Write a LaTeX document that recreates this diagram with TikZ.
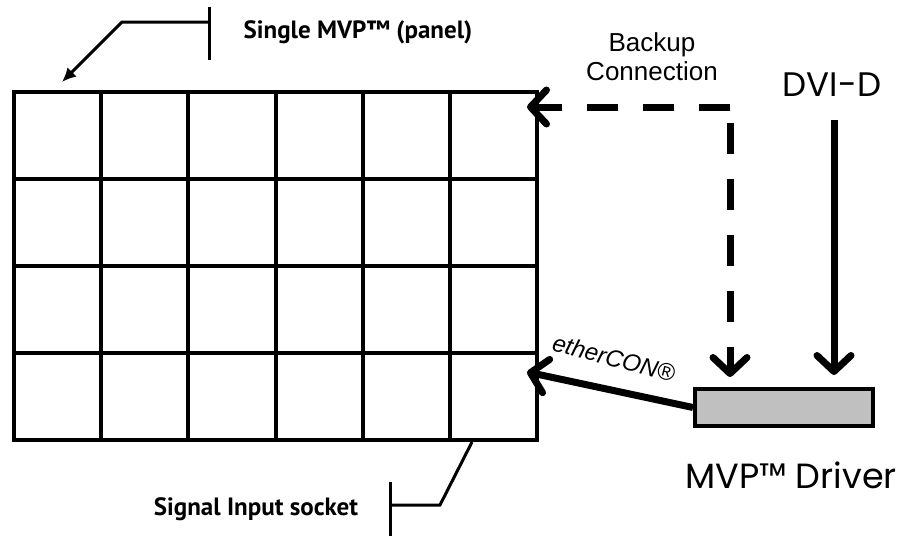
\documentclass[tikz,border=0pt]{standalone}
\usepackage{fontspec}
\setmainfont{Liberation Sans}
\newfontfamily\panelfont{PT Sans}
\newfontfamily\drvfont{Poppins}
\usepackage{tikz}
\usetikzlibrary{calc}
\usetikzlibrary{arrows.meta}
\usetikzlibrary{positioning}
\tikzset{>=latex}
\definecolor{boxgray}{HTML}{C0C0C0}
\tikzstyle{gridline} = [line width=4pt, line cap=rect]
\tikzstyle{leader} = [line width=3pt]
\tikzstyle{feed} = [line width=7pt, -{Straight Barb[length=16pt, width=34pt, round]}]
\tikzstyle{backup} = [feed, dash pattern=on 31pt off 25pt]

\begin{document}
\begin{tikzpicture}[x=1pt, y=-1pt]
\useasboundingbox (0,0) rectangle (915,536);
% panel wall, 6 x 4 tiles
\node [draw=none, minimum width=523pt, minimum height=348pt, inner sep=0] (panel) at (275.5,266) {};
\foreach \c in {0,...,6} \draw [gridline] (14+87.17*\c, 92) -- (14+87.17*\c, 440);
\foreach \r in {0,...,4} \draw [gridline] (14, 92+87*\r) -- (537, 92+87*\r);
% driver
\node [draw, fill=boxgray, line width=4pt, minimum width=178pt, minimum height=37pt, inner sep=0] (drv) at (784,407.5) {};
% labels
\node [font=\panelfont\bfseries\fontsize{25}{29}\selectfont] (single) at (358,32) {Single MVP™ (panel)};
\node [font=\panelfont\bfseries\fontsize{25}{29}\selectfont] (signal) at (256,509) {Signal Input socket};
\node [align=center, font=\fontsize{26}{29}\selectfont] (bkp) at (652,57) {Backup\\Connection};
\node [font=\drvfont\fontsize{34}{38}\selectfont] (dvi) at (832,85) {DVI-D};
\node [font=\drvfont\fontsize{35}{40}\selectfont] (drvname) at (791,475) {MVP™ Driver};
\node [rotate=-15, font=\itshape\fontsize{24}{28}\selectfont] (ether) at (614,358) {etherCON®};
% leaders
\coordinate (stick) at (209,22);
\coordinate (sbend) at (122,22);
\coordinate (stip) at (62,82);
\draw [leader] (209,7) -- (209,60);
\draw [leader, -{Latex[length=14pt, width=13pt]}] (stick) -- (sbend) -- (stip);
\coordinate (itick) at (390,505);
\coordinate (ibend) at (440,505);
\coordinate (itip) at (472,442);
\draw [leader] (390,482) -- (390,536);
\draw [leader] (itick) -- (ibend) -- (itip);
% connections
\coordinate (corner) at (730,107);
\coordinate (bkin) at (527,107);
\coordinate (dvitop) at (834,120);
\coordinate (ethin) at (527,372);
\draw [backup] (corner) -- (bkin);
\draw [backup, dash phase=40pt, shorten >=10pt] (corner) -- (drv.north -| corner);
\draw [feed, shorten >=12pt] (dvitop) -- (drv.north -| dvitop);
\draw [feed] (drv.west) -- (ethin);
\end{tikzpicture}
\end{document}
